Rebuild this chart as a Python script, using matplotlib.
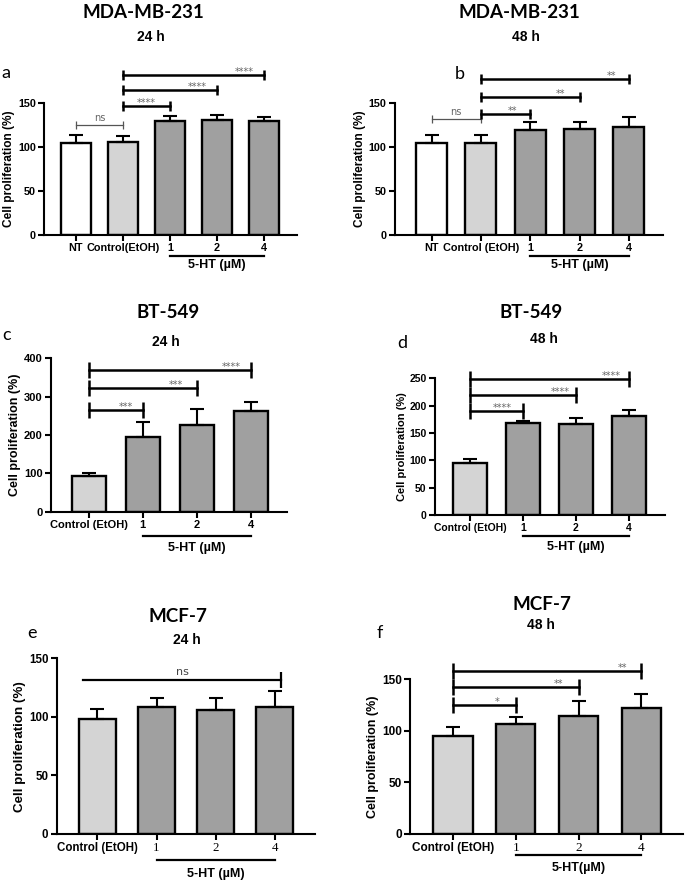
import numpy as np
import matplotlib
matplotlib.use('Agg')
import matplotlib.pyplot as plt
import matplotlib.transforms as mtransforms

# ---- data ----
a_labels = ['NT', 'Control(EtOH)', '1', '2', '4']
a_mean = [104, 106, 129, 131, 129]
a_err = [9.5, 6.5, 6.5, 5, 5.5]
a_sig = [(0, 1, 125, 'ns'), (1, 2, 147, '****'), (1, 3, 165, '****'), (1, 4, 182, '****')]

b_labels = ['NT', 'Control (EtOH)', '1', '2', '4']
b_mean = [104, 105, 119, 120, 123]
b_err = [9.5, 8.5, 9.5, 8.5, 11.5]
b_sig = [(0, 1, 132, 'ns'), (1, 2, 138, '**'), (1, 3, 157, '**'), (1, 4, 177, '**')]

c_labels = ['Control (EtOH)', '1', '2', '4']
c_mean = [93, 194, 226, 263]
c_err = [9, 40, 42, 23]
c_sig = [(0, 1, 265, '***'), (0, 2, 322, '***'), (0, 3, 370, '****')]

d_labels = ['Control (EtOH)', '1', '2', '4']
d_mean = [95.5, 169, 167, 181]
d_err = [7, 3.5, 11, 11]
d_sig = [(0, 1, 190, '****'), (0, 2, 219, '****'), (0, 3, 249, '****')]

e_labels = ['Control (EtOH)', '1', '2', '4']
e_mean = [98, 108, 105.5, 108.5]
e_err = [9, 8, 11, 13.5]
e_sig = [(0, 3, 131.5, 'ns')]

f_labels = ['Control (EtOH)', '1', '2', '4']
f_mean = [95.5, 107, 114.5, 122.5]
f_err = [8, 6, 14, 13]
f_sig = [(0, 1, 125, '*'), (0, 2, 143, '**'), (0, 3, 158, '**')]

WHITE, LIGHT, DARK = 'white', '#d4d4d4', '#a0a0a0'

W, H = 685, 882
fig = plt.figure(figsize=(W / 100, H / 100), dpi=100)
plt.rcParams['font.family'] = ['Liberation Sans', 'DejaVu Sans']


def px_rect(left, right, bottom, top):
    return [left / W, 1 - bottom / H, (right - left) / W, (bottom - top) / H]


def draw_panel(rect, labels, means, errs, colors, sig, ymax, yticks, xlim,
               star_pos, line_y, text_y, ht_text='5-HT (µM)', serif=False,
               fs=8, lab_fs=8.6, cap=8):
    ax = fig.add_axes(rect)
    x = np.arange(len(means))
    ax.bar(x, means, width=0.63, color=colors, edgecolor='black', linewidth=1.7, zorder=2)
    ax.errorbar(x, means, yerr=[np.zeros(len(errs)), errs], fmt='none', ecolor='black',
                elinewidth=1.5, capsize=5, capthick=1.5, zorder=3)
    ax.set_xlim(*xlim)
    ax.set_ylim(0, ymax)
    ax.set_yticks(yticks)
    ax.set_xticks(x)
    ax.set_xticklabels(labels)
    for sp in ['top', 'right']:
        ax.spines[sp].set_visible(False)
    for sp in ['left', 'bottom']:
        ax.spines[sp].set_linewidth(1.5)
    ax.tick_params(width=1.5, length=4, labelsize=fs, pad=2)
    for t in ax.get_yticklabels():
        t.set_fontweight('bold')
    for k, t in enumerate(ax.get_xticklabels()):
        if serif and k > 0:
            t.set_family('Liberation Serif')
            t.set_fontsize(fs + 1)
        else:
            t.set_fontweight('bold')
    ax.set_ylabel('Cell proliferation (%)', fontsize=lab_fs, fontweight='bold', labelpad=2)

    for (i, j, y, lab), fr in zip(sig, star_pos):
        tx = i + fr * (j - i)
        if lab == 'ns' and i == 0 and j == 1:
            ax.plot([i, j], [y, y], color='#555555', lw=0.9, clip_on=False, zorder=4)
            ax.plot([i, j], [y, y], color='#555555', lw=0, marker='|', ms=6, mew=0.9,
                    clip_on=False, zorder=4)
            ax.annotate(lab, (tx, y), xytext=(0, 1.5), textcoords='offset points',
                        ha='center', va='bottom', fontsize=7, color='#666666',
                        family='DejaVu Sans', annotation_clip=False)
        elif lab == 'ns':
            ax.plot([i - 0.25, j + 0.1], [y, y], color='black', lw=1.6, clip_on=False, zorder=4)
            ax.plot([j + 0.1], [y], color='black', lw=0, marker='|', ms=cap, mew=1.6,
                    clip_on=False, zorder=4)
            ax.annotate(lab, (tx, y), xytext=(0, 2), textcoords='offset points',
                        ha='center', va='bottom', fontsize=8, color='#444444',
                        family='DejaVu Sans', annotation_clip=False)
        else:
            ax.plot([i, j], [y, y], color='black', lw=1.8, clip_on=False, zorder=4)
            ax.plot([i, j], [y, y], color='black', lw=0, marker='|', ms=cap, mew=1.8,
                    clip_on=False, zorder=4)
            ax.annotate(lab, (tx, y), xytext=(0, -1.5), textcoords='offset points',
                        ha='center', va='bottom', fontsize=7, color='#666666',
                        family='DejaVu Sans', annotation_clip=False)

    trans = mtransforms.blended_transform_factory(ax.transData, ax.transAxes)
    first = len(means) - 3
    ax.plot([first, len(means) - 1], [line_y, line_y], color='black', lw=1.6,
            transform=trans, clip_on=False)
    ax.text((first + len(means) - 1) / 2, text_y, ht_text, transform=trans, ha='center',
            va='center', fontsize=9, fontweight='bold')
    return ax


draw_panel(px_rect(44.3, 297, 235, 103), a_labels, a_mean, a_err,
           [WHITE, LIGHT, DARK, DARK, DARK], a_sig, 150, [0, 50, 100, 150], (-0.67, 4.7),
           [0.5, 0.5, 0.79, 0.86], -0.16, -0.23, fs=7.8, lab_fs=8.6, cap=7)
draw_panel(px_rect(395, 663, 235, 103), b_labels, b_mean, b_err,
           [WHITE, LIGHT, DARK, DARK, DARK], b_sig, 150, [0, 50, 100, 150], (-0.74, 4.69),
           [0.5, 0.65, 0.81, 0.88], -0.16, -0.23, fs=7.8, lab_fs=8.6, cap=7)
draw_panel(px_rect(51, 287, 511.7, 358.3), c_labels, c_mean, c_err,
           [LIGHT, DARK, DARK, DARK], c_sig, 400, [0, 100, 200, 300, 400], (-0.7, 3.67),
           [0.69, 0.81, 0.88], -0.158, -0.237, fs=8, lab_fs=9, cap=11)
draw_panel(px_rect(435, 665, 515, 378.3), d_labels, d_mean, d_err,
           [LIGHT, DARK, DARK, DARK], d_sig, 250, [0, 50, 100, 150, 200, 250], (-0.66, 3.68),
           [0.61, 0.85, 0.89], -0.154, -0.232, fs=7.5, lab_fs=8, cap=11)
draw_panel(px_rect(56.7, 315, 834, 658.3), e_labels, e_mean, e_err,
           [LIGHT, DARK, DARK, DARK], e_sig, 150, [0, 50, 100, 150], (-0.69, 3.68),
           [0.48], -0.148, -0.228, serif=True, fs=8.3, lab_fs=9.6, cap=11)
draw_panel(px_rect(410, 683, 834, 679.3), f_labels, f_mean, f_err,
           [LIGHT, DARK, DARK, DARK], f_sig, 150, [0, 50, 100, 150], (-0.68, 3.66),
           [0.70, 0.84, 0.90], -0.135, -0.22, ht_text='5-HT(µM)', serif=True,
           fs=8.5, lab_fs=9, cap=11)

# titles, subtitles and panel letters (pixel positions)
titles = [('MDA-MB-231', 143, 12), ('MDA-MB-231', 519, 13), ('BT-549', 168, 312),
          ('BT-549', 531, 313), ('MCF-7', 178, 617), ('MCF-7', 542, 605)]
times = [('24 h', 151, 37), ('48 h', 526, 37), ('24 h', 166, 342),
         ('48 h', 544, 339), ('24 h', 187, 640), ('48 h', 541, 625)]
letters = [('a', 1, 73), ('b', 455, 74), ('c', 2, 335),
           ('d', 397, 343), ('e', 27, 633), ('f', 377, 633)]
for s, x, y in titles:
    fig.text(x / W, 1 - y / H, s, ha='center', va='center', fontsize=13.5,
             fontweight='bold', family='Lato')
for s, x, y in times:
    fig.text(x / W, 1 - y / H, s, ha='center', va='center', fontsize=10, fontweight='bold')
for s, x, y in letters:
    fig.text(x / W, 1 - y / H, s, ha='left', va='center', fontsize=13, family='Lato')

fig.savefig('out.png', dpi=100)
